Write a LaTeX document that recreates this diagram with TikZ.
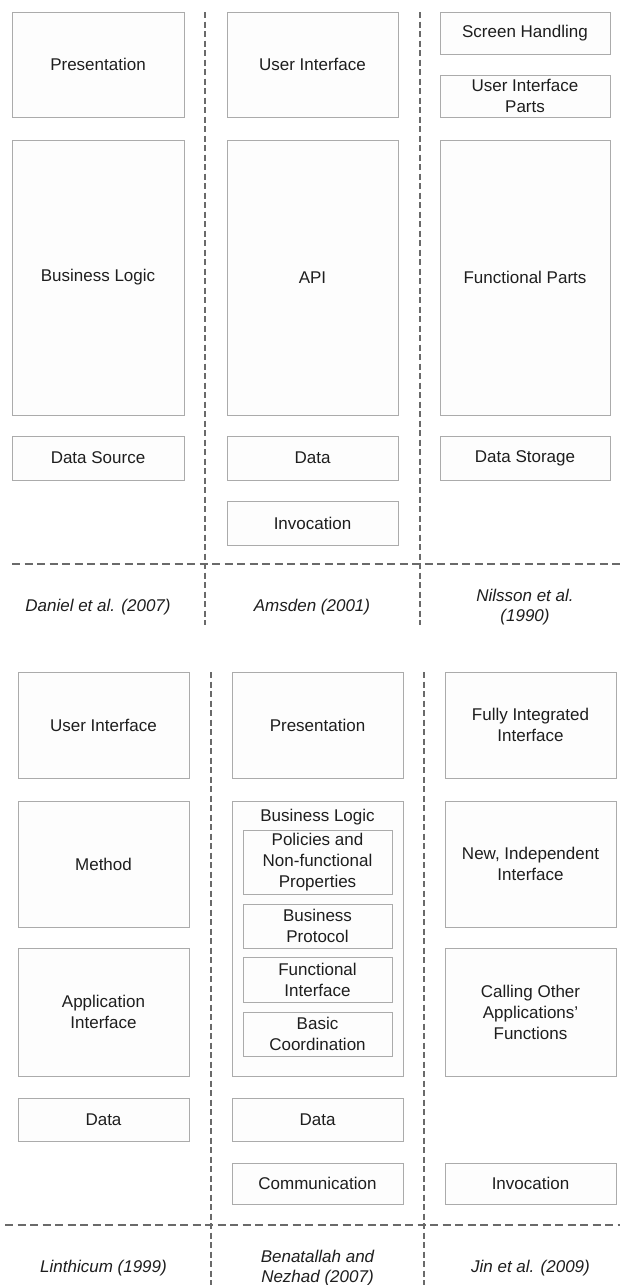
\documentclass[tikz,border=0pt]{standalone}
\usepackage{fontspec}
\setmainfont{Liberation Sans}
\definecolor{boxline}{HTML}{ABABAB}
\definecolor{dashline}{HTML}{6A6A6A}
\definecolor{txt}{HTML}{1E1E1E}
\definecolor{boxfill}{HTML}{FDFDFD}
\newcommand{\mkbox}[6]{%
  \node[layerbox, minimum width={(#4)-(#2)}, minimum height={(#5)-(#3)}]
    (#1) at ({((#2)+(#4))/2},{((#3)+(#5))/2}) {#6};}
\begin{document}
\begin{tikzpicture}[x=1pt,y=-1pt,
  layerbox/.style={draw=boxline, fill=boxfill, line width=1pt, inner sep=0pt,
    text=txt, align=center, font=\fontsize{17}{21}\selectfont},
  sepline/.style={draw=dashline, line width=1.3pt, dash pattern=on 6pt off 3.5pt},
  hsepline/.style={draw=dashline, line width=1.3pt, dash pattern=on 8pt off 4.5pt},
  reflabel/.style={text=txt, align=center, font=\fontsize{17}{20.5}\selectfont\itshape, inner sep=0pt}]
\fill[white] (0,0) rectangle (620,1285);
\useasboundingbox (0,0) rectangle (620,1285);
% ---------- top panel ----------
\coordinate (tv1a) at (205,12); \coordinate (tv1b) at (205,625);
\coordinate (tv2a) at (420,12); \coordinate (tv2b) at (420,625);
\coordinate (th1a) at (12,564); \coordinate (th1b) at (620,564);
\draw[sepline] (tv1a) -- (tv1b);
\draw[sepline] (tv2a) -- (tv2b);
\draw[hsepline] (th1a) -- (th1b);
\mkbox{pres}{12}{12}{184}{117}{Presentation}
\mkbox{blog}{12}{140}{184}{415}{Business Logic}
\mkbox{dsrc}{12}{436}{184}{480}{Data Source}
\mkbox{ui}{227}{12}{398}{117}{User Interface}
\mkbox{api}{227}{140}{398}{415}{API}
\mkbox{data}{227}{436}{398}{480}{Data}
\mkbox{inv}{227}{501}{398}{545}{Invocation}
\mkbox{scr}{440}{12}{610}{54}{Screen Handling}
\mkbox{uip}{440}{75}{610}{117}{User Interface\\Parts}
\mkbox{func}{440}{140}{610}{415}{Functional Parts}
\mkbox{dsto}{440}{436}{610}{480}{Data Storage}
\node[reflabel] (ref1) at (98,607) {Daniel et al. (2007)};
\node[reflabel] (ref2) at (312,607) {Amsden (2001)};
\node[reflabel] (ref3) at (525,607) {Nilsson et al.\\(1990)};
% ---------- bottom panel ----------
\coordinate (bv1a) at (211,672); \coordinate (bv1b) at (211,1285);
\coordinate (bv2a) at (424,672); \coordinate (bv2b) at (424,1285);
\coordinate (bh1a) at (5,1225); \coordinate (bh1b) at (620,1225);
\draw[sepline] (bv1a) -- (bv1b);
\draw[sepline] (bv2a) -- (bv2b);
\draw[hsepline] (bh1a) -- (bh1b);
\mkbox{lui}{18}{672}{189}{778}{User Interface}
\mkbox{lmeth}{18}{801}{189}{927}{Method}
\mkbox{lapp}{18}{948}{189}{1076}{Application\\Interface}
\mkbox{ldata}{18}{1098}{189}{1141}{Data}
\mkbox{bpres}{232}{672}{403}{778}{Presentation}
\mkbox{bbl}{232}{801}{403}{1076}{}
\node[text=txt, font=\fontsize{17}{21}\selectfont, inner sep=0pt] (bbltitle) at (317.5,817) {Business Logic};
\mkbox{bpol}{243}{830}{392}{894}{Policies and\\Non-functional\\Properties}
\mkbox{bprot}{243}{904}{392}{948}{Business\\Protocol}
\mkbox{bfun}{243}{957}{392}{1002}{Functional\\Interface}
\mkbox{bcoord}{243}{1012}{392}{1056}{Basic\\Coordination}
\mkbox{bdata}{232}{1098}{403}{1141}{Data}
\mkbox{bcomm}{232}{1163}{403}{1204}{Communication}
\mkbox{jfull}{445}{672}{616}{778}{Fully Integrated\\Interface}
\mkbox{jnew}{445}{801}{616}{927}{New, Independent\\Interface}
\mkbox{jcall}{445}{948}{616}{1076}{Calling Other\\Applications'\\Functions}
\mkbox{jinv}{445}{1163}{616}{1204}{Invocation}
\node[reflabel] (ref4) at (103.5,1268) {Linthicum (1999)};
\node[reflabel] (ref5) at (317.5,1268) {Benatallah and\\Nezhad (2007)};
\node[reflabel] (ref6) at (530.5,1268) {Jin et al. (2009)};
\end{tikzpicture}
\end{document}
